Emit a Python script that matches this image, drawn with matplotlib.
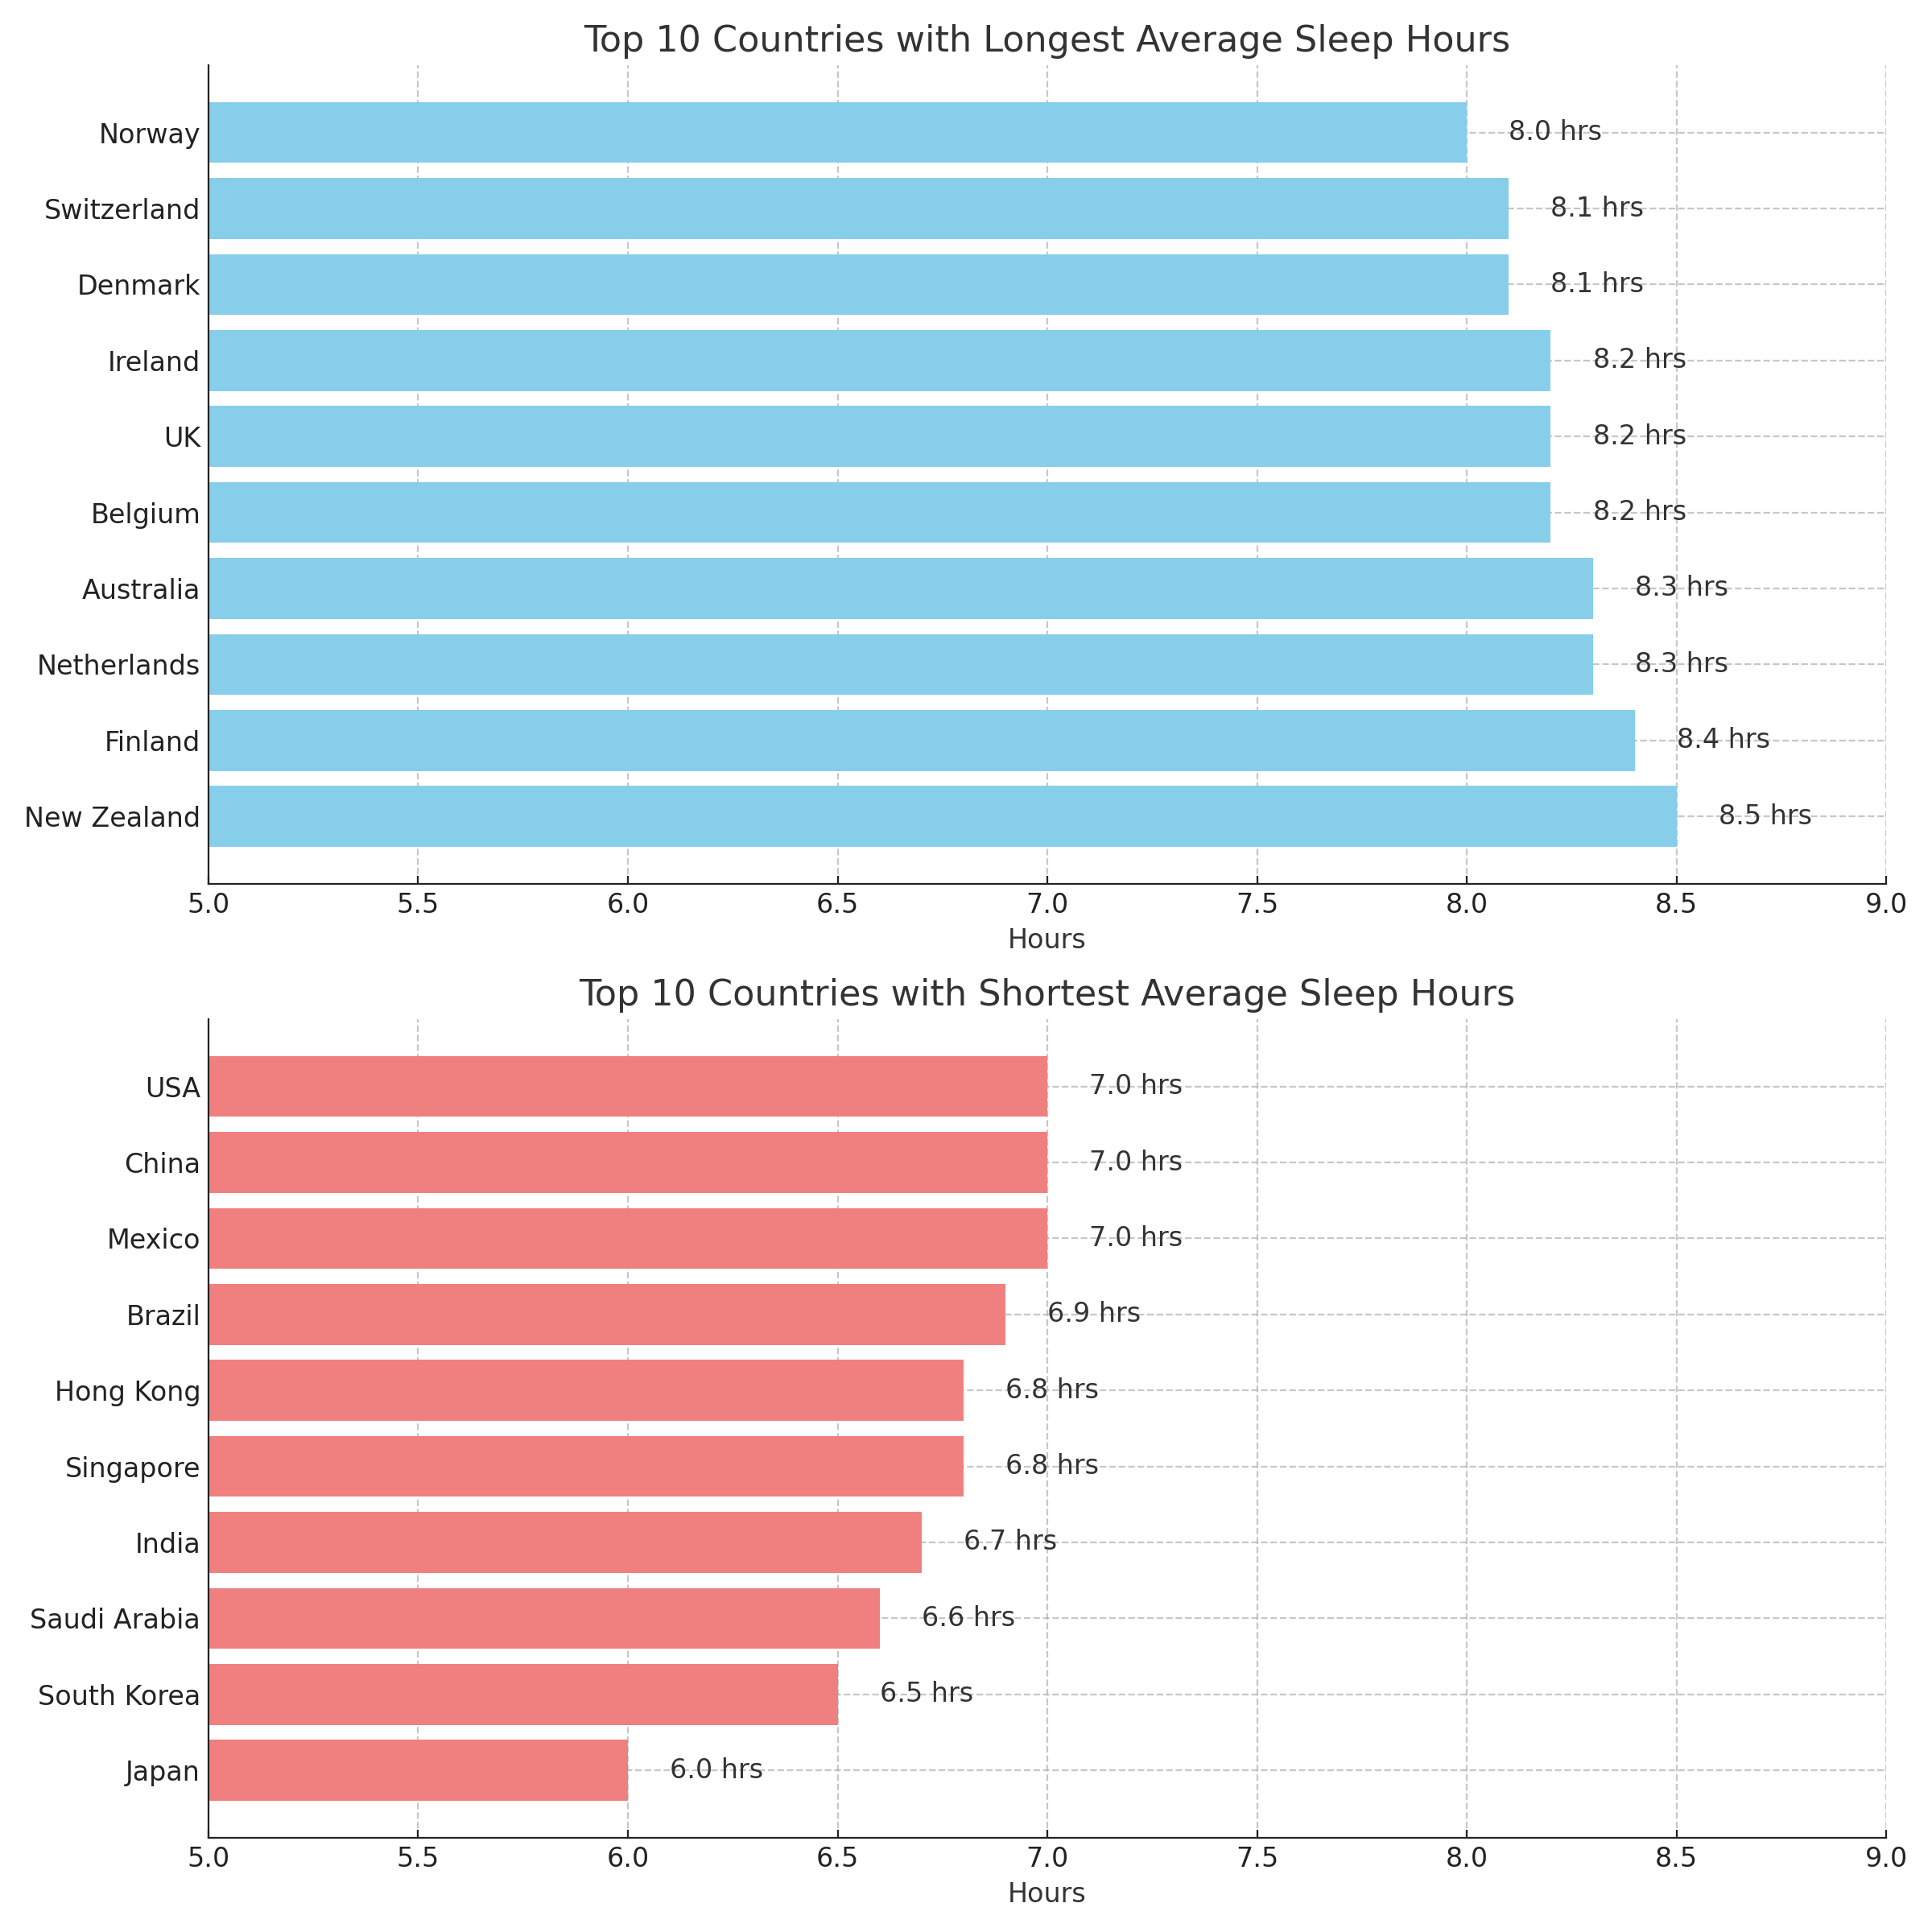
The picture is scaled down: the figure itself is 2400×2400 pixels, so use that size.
import matplotlib.pyplot as plt

# Longest sleep
long_countries = ["New Zealand", "Finland", "Netherlands", "Australia", "Belgium",
                  "UK", "Ireland", "Denmark", "Switzerland", "Norway"]
long_hours = [8.5, 8.4, 8.3, 8.3, 8.2, 8.2, 8.2, 8.1, 8.1, 8.0]

# Shortest sleep
short_countries = ["Japan", "South Korea", "Saudi Arabia", "India", "Singapore",
                   "Hong Kong", "Brazil", "Mexico", "China", "USA"]
short_hours = [6.0, 6.5, 6.6, 6.7, 6.8, 6.8, 6.9, 7.0, 7.0, 7.0]

text_color = "#333333"
dark = "#222222"
plt.rcParams['font.family'] = ['DejaVu Sans']

fig, axs = plt.subplots(2, 1, figsize=(12, 12), dpi=200)

panels = [
    (long_countries, long_hours, "skyblue", "Top 10 Countries with Longest Average Sleep Hours"),
    (short_countries, short_hours, "lightcoral", "Top 10 Countries with Shortest Average Sleep Hours"),
]

for ax, (countries, hours, color, title) in zip(axs, panels):
    ax.barh(countries, hours, color=color, height=0.8, zorder=2)
    for i, h in enumerate(hours):
        ax.text(h + 0.1, i, f"{h:.1f} hrs", va="center", ha="left",
                fontsize=12, color=text_color, zorder=3)
    ax.set_xlim(5, 9)
    ax.set_title(title, fontsize=16, color=text_color)
    ax.set_xlabel("Hours", fontsize=12, color=text_color)
    ax.tick_params(labelsize=12, colors=dark, direction="in")
    ax.grid(True, linestyle="--", color="#b0b0b0", alpha=0.7, linewidth=0.8, zorder=0)
    ax.set_axisbelow(True)
    ax.spines["top"].set_visible(False)
    ax.spines["right"].set_visible(False)
    ax.spines["left"].set_color(dark)
    ax.spines["bottom"].set_color(dark)

plt.tight_layout()
plt.savefig("out.png", dpi=200)
